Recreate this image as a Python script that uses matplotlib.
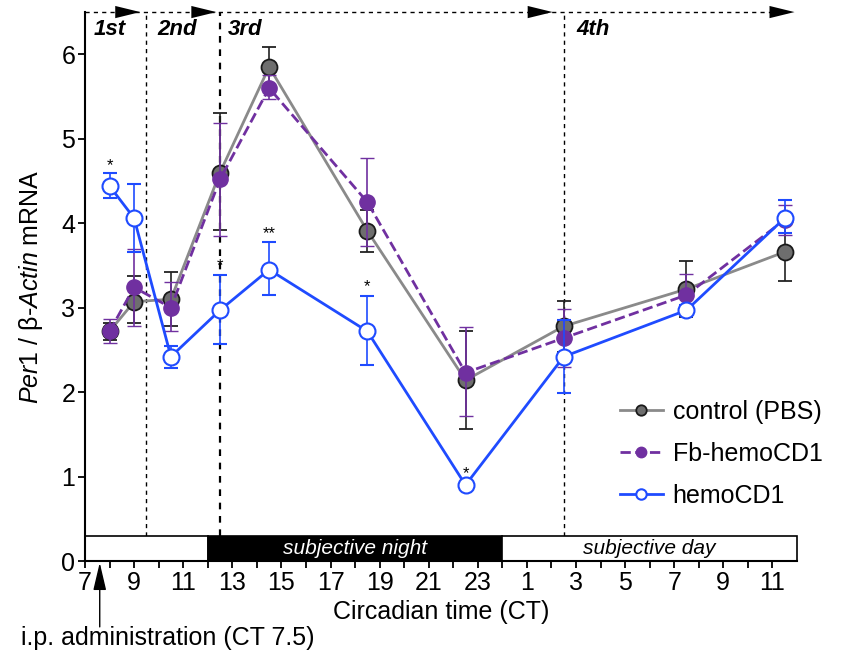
import matplotlib
matplotlib.use("Agg")
import matplotlib.pyplot as plt
import numpy as np
from matplotlib.patches import Rectangle
from matplotlib.lines import Line2D

plt.rcParams['font.family'] = ['Liberation Sans', 'DejaVu Sans']
plt.rcParams['mathtext.fontset'] = 'custom'
plt.rcParams['mathtext.rm'] = 'Liberation Sans'
plt.rcParams['mathtext.it'] = 'Liberation Sans:italic'

# ---- data ----
ct = [8, 9, 10.5, 12.5, 14.5, 18.5, 22.5, 26.5, 31.5, 35.5]   # continuous CT (hours)

control = [2.72, 3.07, 3.10, 4.60, 5.85, 3.91, 2.14, 2.78, 3.22, 3.66]
control_lo = [2.62, 2.82, 2.78, 3.92, 5.62, 3.66, 1.56, 2.48, 2.89, 3.31]
control_hi = [2.82, 3.37, 3.42, 5.30, 6.09, 4.16, 2.72, 3.08, 3.55, 4.01]

fb = [2.72, 3.24, 3.00, 4.52, 5.60, 4.25, 2.23, 2.64, 3.15, 4.04]
fb_lo = [2.58, 2.78, 2.72, 3.85, 5.47, 3.73, 1.72, 2.30, 2.92, 3.86]
fb_hi = [2.87, 3.70, 3.30, 5.19, 5.75, 4.77, 2.77, 2.98, 3.40, 4.22]

hemo = [4.44, 4.06, 2.42, 2.97, 3.45, 2.72, 0.90, 2.42, 2.97, 4.06]
hemo_lo = [4.30, 3.66, 2.28, 2.57, 3.15, 2.32, 0.86, 1.99, 2.92, 3.88]
hemo_hi = [4.60, 4.47, 2.55, 3.39, 3.78, 3.14, 0.94, 2.85, 3.03, 4.27]

star_ct = [8, 12.5, 14.5, 18.5, 22.5]
star_y = [4.68, 3.50, 3.88, 3.25, 1.03]
star_txt = ['*', '*', '**', '*', '*']

tick_pos = list(range(7, 36, 2))
tick_lab = [str(h % 24) for h in tick_pos]

period_x = [7.35, 9.95, 12.8, 27.0]
period_lab = ['1st', '2nd', '3rd', '4th']
period_lines = [9.5, 12.5, 26.5]
arrow_tips = [9.25, 12.35, 26.05, 35.9]

bar_segments = [(7, 12, 'white'), (12, 24, 'black'), (24, 36, 'white')]

# ---- figure ----
fig = plt.figure(figsize=(8.5, 6.59), dpi=100)
ax = fig.add_axes([0.1, 0.1487, 0.8376, 0.8330])
ax.set_xlim(7, 36)
ax.set_ylim(0, 6.5)

def yerr(v, lo, hi):
    v = np.array(v); return [v - np.array(lo), np.array(hi) - v]

GRAY = '#8a8a8a'
PURPLE = '#7030A0'
BLUE = '#1F4BFF'

styles = [
    dict(color=GRAY, ls='-', mfc='#6e6e6e', mec='#1a1a1a', mew=1.3, ms=11.5, ecolor='#222222'),
    dict(color=PURPLE, ls='--', mfc=PURPLE, mec=PURPLE, mew=1.0, ms=11, ecolor=PURPLE),
    dict(color=BLUE, ls='-', mfc='white', mec=BLUE, mew=1.5, ms=11.5, ecolor=BLUE),
]
series = [(control, control_lo, control_hi, 'control (PBS)'),
          (fb, fb_lo, fb_hi, 'Fb-hemoCD1'),
          (hemo, hemo_lo, hemo_hi, 'hemoCD1')]

handles = []
for i, ((v, lo, hi, lab), st) in enumerate(zip(series, styles)):
    ax.errorbar(ct, v, yerr=yerr(v, lo, hi), color=st['color'], ls=st['ls'],
                lw=2.0, marker='o', ms=st['ms'], mfc=st['mfc'], mec=st['mec'], mew=st['mew'],
                ecolor=st['ecolor'], elinewidth=1.2, capsize=5, capthick=1.2,
                zorder=3 + i)
    handles.append(Line2D([], [], color=st['color'], ls=st['ls'], lw=2.0, marker='o',
                          ms=7.5, mfc=st['mfc'], mec=st['mec'], mew=st['mew'], label=lab))

for x, y, t in zip(star_ct, star_y, star_txt):
    ax.text(x, y, t, ha='center', va='center', fontsize=12, zorder=6)

# light/dark bar
bar_h = 0.30
for x0, x1, c in bar_segments:
    ax.add_patch(Rectangle((x0, 0), x1 - x0, bar_h, facecolor=c, edgecolor='black',
                           lw=1.2, zorder=2, clip_on=False))
ax.text(18, bar_h / 2, 'subjective night', color='white', style='italic',
        ha='center', va='center', fontsize=15, zorder=3)
ax.text(30, bar_h / 2, 'subjective day', color='black', style='italic',
        ha='center', va='center', fontsize=15, zorder=3)

# period lines and arrows
for xl in period_lines:
    ax.plot([xl, xl], [bar_h, 6.5], ls=(0, (3, 3)), color='black',
            lw=1.6 if xl == 12.5 else 1.0, zorder=1, clip_on=False)
ax.plot([7, arrow_tips[-1] - 0.3], [6.5, 6.5], ls=(0, (3, 3)), color='black', lw=1.0,
        clip_on=False, zorder=1)
for tip in arrow_tips:
    ax.annotate('', xy=(tip, 6.5), xytext=(tip - 0.9, 6.5),
                arrowprops=dict(arrowstyle='-|>,head_length=0.9,head_width=0.22',
                                mutation_scale=20, color='black', lw=0,
                                shrinkA=0, shrinkB=0),
                annotation_clip=False)
for x, t in zip(period_x, period_lab):
    ax.text(x, 6.29, t, fontsize=16, fontweight='bold', style='italic',
            ha='left', va='center')

# axes styling
for s in ['top', 'right']:
    ax.spines[s].set_visible(False)
ax.spines['left'].set_linewidth(1.5)
ax.spines['bottom'].set_linewidth(1.5)
ax.set_xticks(tick_pos)
ax.set_xticklabels(tick_lab)
ax.set_xticks(range(8, 36, 2), minor=True)
ax.set_yticks(range(0, 7))
ax.tick_params(axis='both', which='both', direction='out', length=5, width=1.3,
               labelsize=18, pad=2)
ax.set_xlabel('Circadian time (CT)', fontsize=18, labelpad=4)
ax.set_ylabel(r'$\mathit{Per1}$ / β-$\mathit{Actin}$ mRNA', fontsize=18, labelpad=12)

# administration arrow
ax.annotate('', xy=(7.6, -0.02), xytext=(7.6, -0.78),
            arrowprops=dict(arrowstyle='-|>,head_length=0.85,head_width=0.2',
                            mutation_scale=20, color='black', lw=1.0,
                            shrinkA=0, shrinkB=0),
            annotation_clip=False)
fig.text(0.025, 0.032, 'i.p. administration (CT 7.5)', fontsize=18, ha='left', va='center')

ax.legend(handles=handles, loc='upper left', bbox_to_anchor=(0.72, 0.335), frameon=False,
          fontsize=18, handlelength=1.7, labelspacing=0.72, handletextpad=0.4)

fig.savefig('out.png', dpi=100)
